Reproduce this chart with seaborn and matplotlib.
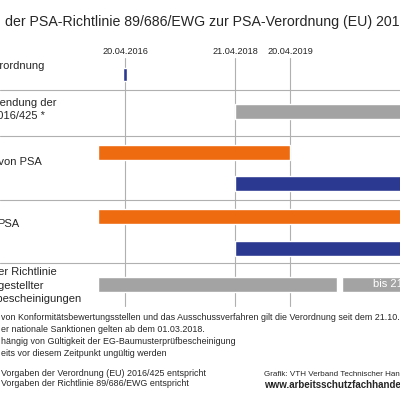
import matplotlib
matplotlib.use("Agg")
import matplotlib.pyplot as plt
import seaborn as sns

sns.set_style("white")
plt.rcParams['font.family'] = ['Liberation Sans', 'DejaVu Sans']

NAVY = "#2b3990"; ORANGE = "#ee6b10"; GRAY = "#a3a3a3"

milestones = [2016.30, 2018.30, 2019.30]
milestone_labels = ["20.04.2016", "21.04.2018", "20.04.2019"]
# bars: (row_center_px, start, end, color)
bar_rows = [74, 111, 152, 183, 216, 248, 284, 284]
bar_start = [2016.27, 2018.30, 2015.80, 2018.30, 2015.80, 2018.30, 2015.80, 2020.25]
bar_end = [2016.33, 2022.5, 2019.30, 2022.5, 2022.5, 2022.5, 2020.15, 2022.5]
bar_color = [NAVY, GRAY, ORANGE, NAVY, ORANGE, NAVY, GRAY, GRAY]
bar_h = [13, 15, 15, 15, 15, 15, 15, 15]

fig = plt.figure(figsize=(4, 4), dpi=100)
ax = fig.add_axes([0, 0, 1, 1])
x0 = 2016.30 - 125/55
ax.set_xlim(x0, x0 + 400/55)
ax.set_ylim(400, 0)
ax.axis("off")

for m in milestones:
    ax.plot([m, m], [58, 306], color="#b0b0b0", lw=0.8, zorder=1)
for yy in [90, 136, 200, 263]:
    ax.plot([x0, x0 + 400/55], [yy, yy], color="#b0b0b0", lw=0.8, zorder=1)
for r, s, e, c, h in zip(bar_rows, bar_start, bar_end, bar_color, bar_h):
    ax.barh(r, e - s, left=s, height=h, color=c, zorder=2)

def px(x, y, s, **kw):
    fig.text(x/400, 1 - y/400, s, **kw)

px(5, 22, "der PSA-Richtlinie 89/686/EWG zur PSA-Verordnung (EU) 2016/425", fontsize=10.2, va="center")
for m, l in zip(milestones, milestone_labels):
    px(125 + (m - 2016.30)*55, 52, l, fontsize=6.6, ha="center", va="center")

lab = dict(fontsize=8, ha="right", va="center")
px(44, 66, "Inkrafttreten der Verordnung", **lab)
px(56, 103, "Anwendung der", **lab)
px(45, 116, "(EU) 2016/425 *", **lab)
px(42, 162, "Inverkehrbringen von PSA", **lab)
px(19, 224, "PSA", **lab)
px(57, 272, "Gültigkeit der Richtlinie", **lab)
px(44, 286, "ausgestellter", **lab)
px(81, 299, "Baumusterprüfbescheinigungen", **lab)
px(373, 284, "bis 21.04.2023", fontsize=8, color="white", va="center")

fn = dict(fontsize=6.4, va="center")
px(1, 318, "von Konformitätsbewertungsstellen und das Ausschussverfahren gilt die Verordnung seit dem 21.10.2016", **fn)
px(1, 330, "er nationale Sanktionen gelten ab dem 01.03.2018.", **fn)
px(1, 342, "hängig von Gültigkeit der EG-Baumusterprüfbescheinigung", **fn)
px(1, 353, "eits vor diesem Zeitpunkt ungültig werden", **fn)
px(1, 373, "Vorgaben der Verordnung (EU) 2016/425 entspricht", **fn)
px(1, 384, "Vorgaben der Richtlinie 89/686/EWG entspricht", **fn)
px(264, 374, "Grafik: VTH Verband Technischer Handel", fontsize=5.8, va="center")
px(264, 385, "www.arbeitsschutzfachhandel.de", fontsize=7, fontweight="bold", va="center")

fig.savefig("out.png", dpi=100)
